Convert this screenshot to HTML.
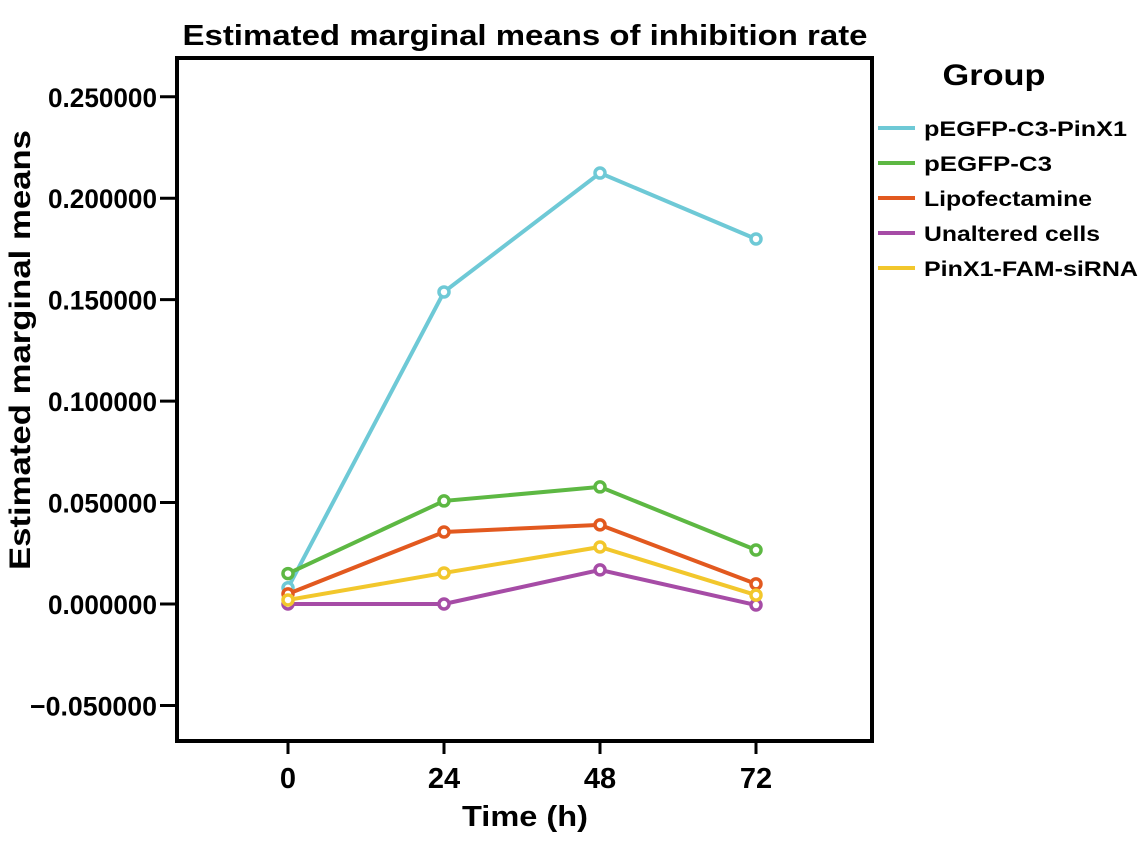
<!DOCTYPE html>
<html><head><meta charset="utf-8"><style>
body{margin:0;background:#fff;}
text{font-family:"Liberation Sans",Arial,sans-serif;font-weight:bold;fill:#000;}
</style></head><body>
<svg id="chart" width="1147" height="839" viewBox="0 0 1147 839">
<text class="st" data-w="685" x="525" y="45" font-size="29" text-anchor="middle">Estimated marginal means of inhibition rate</text>
<rect x="177" y="58" width="695" height="683" fill="none" stroke="#000" stroke-width="4"/>
<g id="yaxis"></g>
<g id="xaxis"></g>
<text class="st" data-w="440" transform="translate(30,350) rotate(-90)" font-size="30" text-anchor="middle">Estimated marginal means</text>
<text class="st" data-w="126" x="525" y="826" font-size="29" text-anchor="middle">Time (h)</text>
<g id="series"></g>
<text class="st" data-w="103" x="994" y="85" font-size="30" text-anchor="middle">Group</text>
<g id="legend"></g>
</svg>
<script>
const categories=[0,24,48,72];
const yTicks=[0.25,0.2,0.15,0.1,0.05,0,-0.05];
const yTickLabels=["0.250000","0.200000","0.150000","0.100000","0.050000","0.000000","\u22120.050000"];
const seriesNames=["pEGFP-C3-PinX1","pEGFP-C3","Lipofectamine","Unaltered cells","PinX1-FAM-siRNA"];
const seriesColors=["#6ec9d6","#5db843","#e2591f","#a64ca6","#f2c72c"];
const sPinX1=[0.008,0.1538,0.2124,0.1799];
const sC3=[0.015,0.0508,0.0577,0.0266];
const sLipo=[0.005,0.0355,0.039,0.0099];
const sUnalt=[0.0,0.0,0.0168,-0.0005];
const sSiRNA=[0.002,0.0153,0.0281,0.0044];
const seriesValues=[sPinX1,sC3,sLipo,sUnalt,sSiRNA];
const NS="http://www.w3.org/2000/svg";
const xs=v=>288+(v/24)*156;
const ys=v=>604-v*2029;
function mk(tag,attrs,parent){const e=document.createElementNS(NS,tag);for(const k in attrs)e.setAttribute(k,attrs[k]);parent.appendChild(e);return e;}
const ya=document.getElementById('yaxis');
yTicks.forEach((t,i)=>{
 const l=mk('line',{x1:160,x2:177,y1:ys(t),y2:ys(t),stroke:'#000','stroke-width':3},ya);
 
 
 const tx=mk('text',{x:157,y:ys(t)+10,'font-size':27,'text-anchor':'end',class:'st','data-w':(i===6?127:109)},ya);
 tx.textContent=yTickLabels[i];
 
 
});
const xa=document.getElementById('xaxis');
categories.forEach(c=>{
 const l=mk('line',{x1:xs(c),x2:xs(c),y1:741,y2:754,stroke:'#000','stroke-width':3},xa);
 
 
 const tx=mk('text',{x:xs(c),y:788,'font-size':29,'text-anchor':'middle'},xa);
 tx.textContent=String(c);
 
 
});
const sg=document.getElementById('series');
seriesValues.forEach((vals,si)=>{
 const g=mk('g',{},sg);
 
 
 const pts=vals.map((v,i)=>xs(categories[i])+','+ys(v)).join(' ');
 const pl=mk('polyline',{points:pts,fill:'none',stroke:seriesColors[si],'stroke-width':4},g);
 
 
 vals.forEach((v,i)=>{
  const c=mk('circle',{cx:xs(categories[i]),cy:ys(v),r:5,fill:'#fff',stroke:seriesColors[si],'stroke-width':3.5},g);
  
  
 });
});
const legendWidths=[203,128,168,176,214];
const lg=document.getElementById('legend');
seriesNames.forEach((n,i)=>{
 const y=128+i*35;
 const g=mk('g',{},lg);
 
 
 mk('line',{x1:878,x2:915,y1:y,y2:y,stroke:seriesColors[i],'stroke-width':4},g);
 const t=mk('text',{x:924,y:y+8,'font-size':21,class:'st','data-w':legendWidths[i]},g);
 t.textContent=n;
});
document.querySelectorAll('text.st').forEach(t=>{
 t.setAttribute('textLength',t.getAttribute('data-w'));
 t.setAttribute('lengthAdjust','spacingAndGlyphs');
});
</script>
</body></html>
